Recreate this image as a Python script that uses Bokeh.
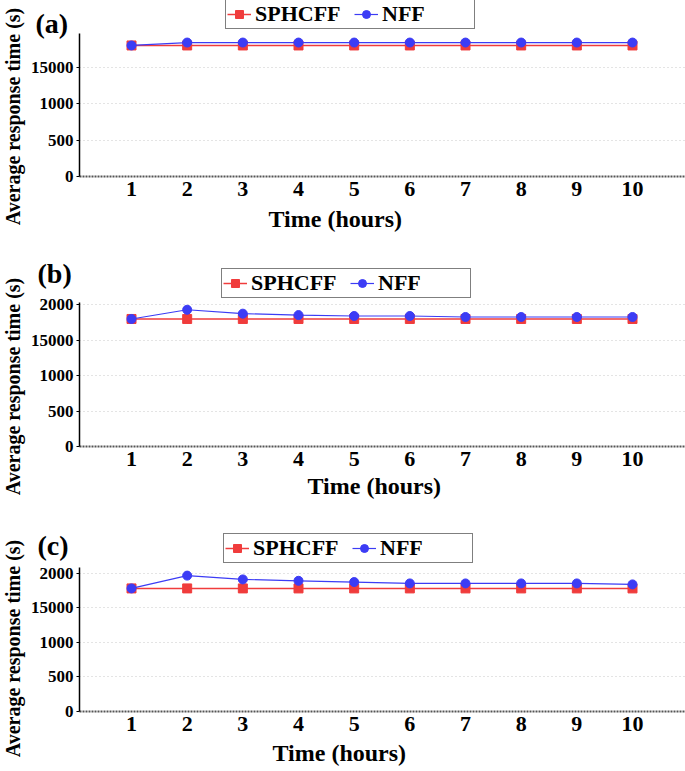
import math
from bokeh.plotting import figure
from bokeh.models import (Range1d, FixedTicker, Label, Legend, LegendItem,
                          LinearAxis, Grid)
from bokeh.embed import file_html
from bokeh.resources import INLINE

# ---------------- data ----------------
hours = [1, 2, 3, 4, 5, 6, 7, 8, 9, 10]
hour_labels = ["1", "2", "3", "4", "5", "6", "7", "8", "9", "10"]

y_ticks = [0, 500, 1000, 1500, 2000]
y_tick_labels = ["0", "500", "1000", "15000", "2000"]

sphcff_a = [1800, 1800, 1800, 1800, 1800, 1800, 1800, 1800, 1800, 1800]
nff_a = [1800, 1840, 1840, 1840, 1840, 1840, 1840, 1840, 1840, 1840]

sphcff_b = [1800, 1800, 1800, 1800, 1800, 1800, 1800, 1800, 1800, 1800]
nff_b = [1800, 1930, 1875, 1855, 1842, 1842, 1828, 1828, 1828, 1828]

sphcff_c = [1780, 1780, 1780, 1780, 1780, 1780, 1780, 1780, 1780, 1780]
nff_c = [1780, 1965, 1910, 1890, 1872, 1852, 1852, 1852, 1852, 1838]

series_names = ["SPHCFF", "NFF"]
panel_tags = ["(a)", "(b)", "(c)"]
x_title = "Time (hours)"
y_title = "Average response time (s)"

# ---------------- layout (pixels on the 685x771 canvas) ----------------
W, H = 685, 771
RED = "#f03c3c"
BLUE = "#3c3cf5"
FONT = "Liberation Serif"

X1_PX, X10_PX = 131.0, 632.0          # where hour 1 and hour 10 sit
AXIS_LEFT_PX = 79.0                   # y axis line position
PX_PER_HOUR = (X10_PX - X1_PX) / 9.0


def x_of_px(px):
    return 1 + (px - X1_PX) / PX_PER_HOUR


# per panel: zero line (px from top), px per unit, axis top (px from top)
panels = [
    dict(name="a", zero=176.0, ppu=36.4 / 500, top=32.5,
         tag_xy=(35, H - 23), legend_xy=(225, H - 29),
         xt_xy=(268, H - 218), yt_y=H - 116),
    dict(name="b", zero=446.0, ppu=141.7 / 2000, top=301.7,
         tag_xy=(37, H - 273), legend_xy=(221, H - 298),
         xt_xy=(307, H - 485), yt_y=H - 386),
    dict(name="c", zero=711.0, ppu=138.3 / 2000, top=567.3,
         tag_xy=(37, H - 545), legend_xy=(223, H - 563),
         xt_xy=(272, H - 752), yt_y=H - 648),
]
series = [(sphcff_a, nff_a), (sphcff_b, nff_b), (sphcff_c, nff_c)]

p = figure(width=W, height=H, output_backend="svg", toolbar_location=None,
           x_axis_type=None, y_axis_type=None,
           x_range=Range1d(x_of_px(0), x_of_px(W)), y_range=Range1d(0, H),
           min_border=0)
p.min_border_left = p.min_border_right = 0
p.min_border_top = p.min_border_bottom = 0
p.outline_line_color = None
p.background_fill_color = "white"
p.border_fill_color = "white"

x_left = x_of_px(AXIS_LEFT_PX)
x_right = x_of_px(W)
has_cross = "cross_bounds" in Grid.properties()

for i, cfg in enumerate(panels):
    nm = cfg["name"]
    y_lo = -(H - cfg["zero"]) / cfg["ppu"]
    y_hi = cfg["zero"] / cfg["ppu"]
    y_top = (cfg["zero"] - cfg["top"]) / cfg["ppu"]
    p.extra_y_ranges[nm] = Range1d(y_lo, y_hi)

    ticks = [t for t in y_ticks if t <= y_top]
    labels = {t: l for t, l in zip(y_ticks, y_tick_labels) if t <= y_top}

    # grid
    if has_cross:
        g = Grid(dimension=1, y_range_name=nm,
                 ticker=FixedTicker(ticks=[t for t in ticks if t > 0]),
                 cross_bounds=(x_left, x_right),
                 grid_line_color="#c8c8c8", grid_line_dash="1 3",
                 grid_line_width=1)
        p.add_layout(g)
    else:
        gt = [t for t in ticks if t > 0]
        p.segment(x0=[x_left] * len(gt), y0=gt, x1=[x_right] * len(gt), y1=gt,
                  y_range_name=nm, line_color="#c8c8c8", line_dash="1 3",
                  line_width=1)

    # y axis
    ya = LinearAxis(y_range_name=nm, fixed_location=x_left, bounds=(0, y_top),
                    ticker=FixedTicker(ticks=ticks))
    ya.major_label_overrides = labels
    ya.major_tick_out = 3
    ya.major_tick_in = 0
    ya.minor_tick_out = 0
    ya.minor_tick_in = 0
    ya.axis_line_color = "black"
    ya.axis_line_width = 1.5
    ya.major_tick_line_color = "black"
    ya.major_label_standoff = 3
    ya.major_label_text_font = FONT
    ya.major_label_text_font_style = "bold"
    ya.major_label_text_font_size = "17px"
    ya.major_label_text_color = "black"
    p.add_layout(ya, "left")

    # x axis
    xa = LinearAxis(y_range_name=nm, fixed_location=0, bounds=(x_left, x_right),
                    ticker=FixedTicker(ticks=hours))
    xa.major_label_overrides = {h: l for h, l in zip(hours, hour_labels)}
    xa.major_tick_out = 0
    xa.major_tick_in = 0
    xa.minor_tick_out = 0
    xa.minor_tick_in = 0
    xa.axis_line_color = "#555555"
    xa.axis_line_width = 2
    xa.axis_line_dash = "2 1"
    xa.major_label_standoff = 5
    xa.major_label_text_font = FONT
    xa.major_label_text_font_style = "bold"
    xa.major_label_text_font_size = "22px"
    xa.major_label_text_color = "black"
    p.add_layout(xa, "below")

    # series
    sph, nff = series[i]
    r1 = p.line(hours, sph, y_range_name=nm, line_color=RED, line_width=1.5)
    r2 = p.scatter(hours, sph, y_range_name=nm, marker="square", size=9,
                   fill_color=RED, line_color=RED)
    r3 = p.line(hours, nff, y_range_name=nm, line_color=BLUE, line_width=1.2)
    r4 = p.scatter(hours, nff, y_range_name=nm, marker="circle", size=9,
                   fill_color=BLUE, line_color=BLUE)

    legend = Legend(items=[LegendItem(label=series_names[0], renderers=[r1, r2]),
                           LegendItem(label=series_names[1], renderers=[r3, r4])],
                    location=cfg["legend_xy"], orientation="horizontal",
                    padding=1, spacing=8, margin=0,
                    glyph_width=24, glyph_height=20, label_standoff=4,
                    label_width=91, label_height=20,
                    label_text_font=FONT, label_text_font_style="bold",
                    label_text_font_size="22px", label_text_color="black",
                    border_line_color="black", border_line_width=1.5,
                    background_fill_color="white", background_fill_alpha=1)
    p.add_layout(legend)

    p.add_layout(Label(x=cfg["tag_xy"][0], y=cfg["tag_xy"][1],
                       x_units="screen", y_units="screen",
                       text=panel_tags[i], text_font=FONT, text_font_style="bold",
                       text_font_size="28px", text_align="left",
                       text_baseline="middle", text_color="black"))
    p.add_layout(Label(x=cfg["xt_xy"][0], y=cfg["xt_xy"][1],
                       x_units="screen", y_units="screen",
                       text=x_title, text_font=FONT, text_font_style="bold",
                       text_font_size="24px", text_align="left",
                       text_baseline="middle", text_color="black"))
    p.add_layout(Label(x=12, y=cfg["yt_y"], x_units="screen", y_units="screen",
                       text=y_title, text_font=FONT, text_font_style="bold",
                       text_font_size="20px", text_align="center",
                       text_baseline="middle", angle=math.pi / 2,
                       text_color="black"))

open("out.html", "w").write(file_html(p, INLINE))
